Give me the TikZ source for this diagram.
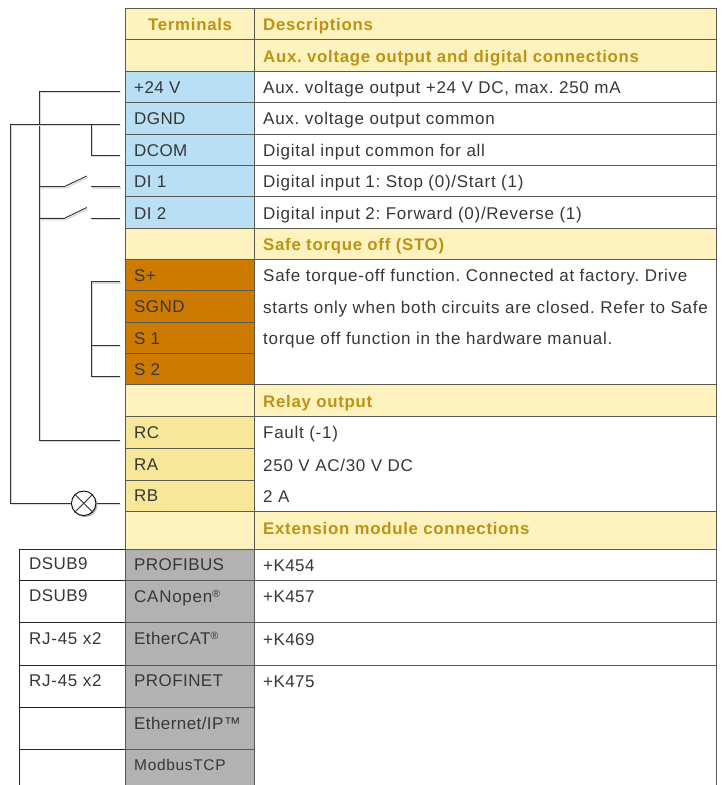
\documentclass[tikz,border=0pt]{standalone}
\usepackage{fontspec}
\setmainfont[LetterSpace=4.3]{Liberation Sans}
\newfontfamily\termfont[LetterSpace=2.5]{Liberation Sans}
\frenchspacing
\definecolor{gold}{RGB}{190,146,20}
\definecolor{cream}{RGB}{254,243,190}
\definecolor{lblue}{RGB}{184,223,243}
\definecolor{ochre}{RGB}{204,122,0}
\definecolor{sand}{RGB}{247,231,152}
\definecolor{lgrey}{RGB}{178,178,178}
\definecolor{edge}{RGB}{90,90,85}
\definecolor{txt}{RGB}{55,55,55}
\definecolor{wire}{RGB}{50,50,50}
\tikzset{
 x=1pt,y=-1pt,
 cellb/.style={draw=edge,line width=.8pt},
 leftb/.style={draw=black!85,line width=.8pt},
 lab/.style={anchor=base west,inner sep=0pt,text=txt,font=\fontsize{17}{18}\selectfont},
 term/.style={lab,font=\fontsize{17}{18}\termfont},
 head/.style={anchor=base west,inner sep=0pt,text=gold,font=\fontsize{16.8}{18}\selectfont\bfseries},
 wireshadow/.style={draw=black!15,line width=1.4pt,transform canvas={shift={(1.3,1.3)}}},
 wireline/.style={draw=wire,line width=.9pt,preaction={wireshadow}},
 small/.style={lab,font=\fontsize{15.5}{17}\selectfont},
 lamp/.style={circle,draw=black,fill=white,line width=.9pt,minimum size=24.5pt,inner sep=0pt}
}
\newcommand{\regmark}{\raisebox{.55ex}{\fontsize{10.5}{11}\selectfont ®}}
\begin{document}
\begin{tikzpicture}
\useasboundingbox (0,0) rectangle (726,785);
\fill[white] (0,0) rectangle (726,785);
\foreach \a/\b in {8/39.5,39.5/71,228/259,384.5/416,511/549}{
  \path[fill=cream,cellb] (125,\a) rectangle (254,\b);
  \path[fill=cream,cellb] (254,\a) rectangle (716,\b);}
\foreach \a/\b in {71/102.5,102.5/134,134/165,165/196.5,196.5/228}{
  \path[fill=lblue,cellb] (125,\a) rectangle (254,\b);
  \path[cellb] (254,\a) rectangle (716,\b);}
\foreach \a/\b in {259/290.5,290.5/322,322/353.5,353.5/384.5}{
  \path[fill=ochre,cellb] (125,\a) rectangle (254,\b);}
\path[cellb] (254,259) rectangle (716,384.5);
\foreach \a/\b in {416/448,448/480,480/511}{
  \path[fill=sand,cellb] (125,\a) rectangle (254,\b);}
\path[cellb] (254,416) rectangle (716,511);
\foreach \a/\b in {549/580.5,580.5/622.5,622.5/665,665/707,707/749,749/800}{
  \path[leftb] (19,\a) rectangle (125,\b);
  \path[fill=lgrey,cellb] (125,\a) rectangle (254,\b);}
\foreach \a/\b in {549/580.5,580.5/622.5,622.5/665,665/800}{
  \path[cellb] (254,\a) rectangle (716,\b);}
\node[head] (t1) at (148,30) {Terminals};
\node[head] (t2) at (263,30) {Descriptions};
\node[head] (t3) at (263,62) {Aux. voltage output and digital connections};
\node[head] (t4) at (263,250) {Safe torque off (STO)};
\node[head] (t5) at (263,407) {Relay output};
\node[head] (t6) at (263,534) {Extension module connections};
\node[term] (a1) at (134,93) {+24 V};
\node[term] (a2) at (134,124) {DGND};
\node[term] (a3) at (134,156) {DCOM};
\node[term] (a4) at (134,187) {DI 1};
\node[term] (a5) at (134,219) {DI 2};
\node[term] (b1) at (134,281) {S+};
\node[term] (b2) at (134,312) {SGND};
\node[term] (b3) at (134,344) {S 1};
\node[term] (b4) at (134,375) {S 2};
\node[term] (c1) at (134,438) {RC};
\node[term] (c2) at (134,470) {RA};
\node[term] (c3) at (134,501) {RB};
\node[term] (d1) at (134,570) {PROFIBUS};
\node[lab] (d2) at (134,602) {CANopen\regmark};
\node[term] (d3) at (134,644) {EtherCAT\regmark};
\node[term] (d4) at (134,686) {PROFINET};
\node[term] (d5) at (134,729) {Ethernet/IP™};
\node[small] (d6) at (134,770) {ModbusTCP};
\node[lab] (e1) at (263,93) {Aux. voltage output +24 V DC, max. 250 mA};
\node[lab] (e2) at (263,124) {Aux. voltage output common};
\node[lab] (e3) at (263,156) {Digital input common for all};
\node[lab] (e4) at (263,187) {Digital input 1: Stop (0)/Start (1)};
\node[lab] (e5) at (263,219) {Digital input 2: Forward (0)/Reverse (1)};
\node[lab] (f1) at (263,281) {Safe torque-off function. Connected at factory. Drive};
\node[lab] (f2) at (263,313) {starts only when both circuits are closed. Refer to Safe};
\node[lab] (f3) at (263,344) {torque off function in the hardware manual.};
\node[lab] (g1) at (263,438) {Fault (-1)};
\node[lab] (g2) at (263,471) {250 V AC/30 V DC};
\node[lab] (g3) at (263,502) {2 A};
\node[term] (h1) at (263,571) {+K454};
\node[term] (h2) at (263,602) {+K457};
\node[term] (h3) at (263,645) {+K469};
\node[term] (h4) at (263,687) {+K475};
\node[term] (l1) at (29,569) {DSUB9};
\node[term] (l2) at (29,601) {DSUB9};
\node[lab] (l3) at (29,644) {RJ-45 x2};
\node[lab] (l4) at (29,686) {RJ-45 x2};
\coordinate (w1) at (120,91);
\coordinate (w2) at (120,124.3);
\coordinate (w3) at (120,155);
\coordinate (w4) at (120,186.5);
\coordinate (w5) at (120,218.3);
\coordinate (w6) at (120,281.7);
\coordinate (w7) at (120,345);
\coordinate (w8) at (120,376.3);
\coordinate (w9) at (120,440);
\coordinate (w10) at (120,503.3);
\coordinate (n1) at (39.3,186.5);
\coordinate (n2) at (64.5,186.5);
\coordinate (n3) at (86.7,176);
\coordinate (n4) at (91,186.5);
\coordinate (n5) at (39.3,218.3);
\coordinate (n6) at (64.5,218.3);
\coordinate (n7) at (86.7,207.5);
\coordinate (n8) at (91,218.3);
\coordinate (n9) at (91,124.3);
\coordinate (n10) at (91,345);
\draw[wireline] (w1) -| (39.3,440) -- (w9);
\draw[wireline] (w2) -| (10.3,503.3) -- (w10);
\draw[wireline] (n9) |- (w3);
\draw[wireline] (n1) -- (n2) -- (n3);
\draw[wireline] (n4) -- (w4);
\draw[wireline] (n5) -- (n6) -- (n7);
\draw[wireline] (n8) -- (w5);
\draw[wireline] (w6) -| (91,376.3) -- (w8);
\draw[wireline] (n10) -- (w7);
\fill[black!30] (85.2,504.8) circle (12.3);
\node[lamp] (lamp) at (83.7,503.3) {};
\draw[wire,line width=.9pt] (lamp.north west)--(lamp.south east) (lamp.north east)--(lamp.south west);
\end{tikzpicture}
\end{document}
